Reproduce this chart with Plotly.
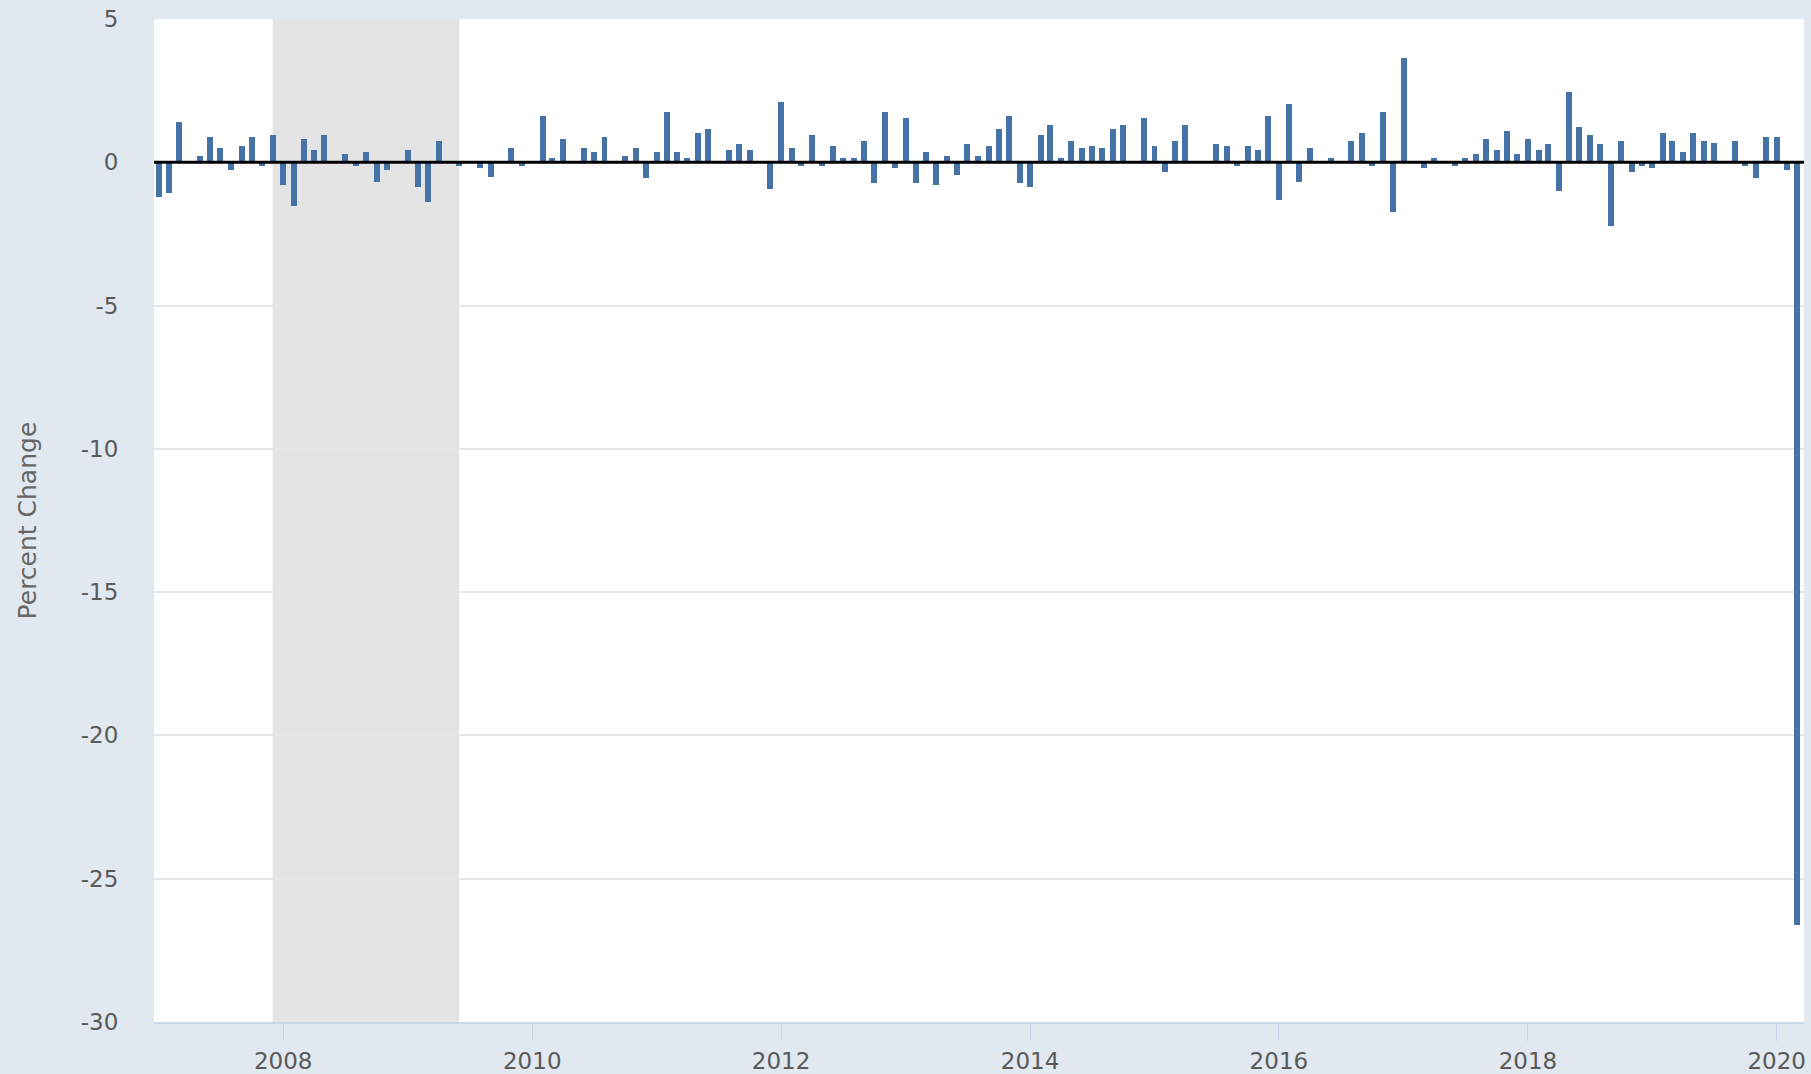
import plotly.graph_objects as go
import pandas as pd

# Monthly percent change, Jan 2007 - Mar 2020
start_month = "2007-01-01"
values_2007 = [-1.22, -1.07, 1.39, 0.0, 0.23, 0.87, 0.51, -0.27, 0.58, 0.87, -0.12, 0.95]
values_2008 = [-0.79, -1.51, 0.81, 0.44, 0.95, 0.0, 0.29, -0.12, 0.37, -0.70, -0.27, 0.0]
values_2009 = [0.44, -0.85, -1.37, 0.73, 0.0, -0.12, 0.0, -0.20, -0.50, 0.0, 0.51, -0.12]
values_2010 = [0.0, 1.60, 0.16, 0.81, 0.0, 0.51, 0.37, 0.88, 0.0, 0.23, 0.51, -0.56]
values_2011 = [0.37, 1.76, 0.37, 0.16, 1.02, 1.16, 0.0, 0.44, 0.65, 0.44, 0.0, -0.93]
values_2012 = [2.11, 0.51, -0.12, 0.95, -0.12, 0.58, 0.16, 0.16, 0.73, -0.72, 1.76, -0.20]
values_2013 = [1.53, -0.72, 0.37, -0.79, 0.23, -0.43, 0.65, 0.23, 0.58, 1.16, 1.60, -0.72]
values_2014 = [-0.85, 0.95, 1.31, 0.16, 0.73, 0.51, 0.58, 0.51, 1.16, 1.31, 0.0, 1.53]
values_2015 = [0.58, -0.35, 0.73, 1.31, 0.0, 0.0, 0.65, 0.58, -0.12, 0.58, 0.44, 1.60]
values_2016 = [-1.30, 2.04, -0.70, 0.51, 0.0, 0.16, 0.0, 0.73, 1.02, -0.12, 1.76, -1.74]
values_2017 = [3.64, 0.0, -0.20, 0.16, 0.0, -0.12, 0.16, 0.29, 0.81, 0.44, 1.10, 0.29]
values_2018 = [0.81, 0.44, 0.65, -0.99, 2.47, 1.24, 0.95, 0.65, -2.24, 0.73, -0.35, -0.12]
values_2019 = [-0.20, 1.02, 0.73, 0.36, 1.02, 0.73, 0.66, 0.0, 0.73, -0.12, -0.56, 0.87]
values_2020 = [0.87, -0.27, -26.6]

recession_start = "2007-12-01"
recession_end = "2009-06-01"

y_ticks = [5, 0, -5, -10, -15, -20, -25, -30]
x_tick_years = ["2008", "2010", "2012", "2014", "2016", "2018", "2020"]

values = (values_2007 + values_2008 + values_2009 + values_2010 + values_2011 +
          values_2012 + values_2013 + values_2014 + values_2015 + values_2016 +
          values_2017 + values_2018 + values_2019 + values_2020)
dates = pd.date_range(start_month, periods=len(values), freq="MS")

FONT = "DejaVu Sans"
TICK_COLOR = "#5a5a5a"

fig = go.Figure()
fig.add_trace(go.Bar(
    x=dates, y=values,
    marker=dict(color="#4572a7", line=dict(width=0)),
    width=17.5 * 86400000,
    hoverinfo="x+y",
))

fig.add_shape(type="rect", xref="x", yref="paper",
              x0=recession_start, x1=recession_end, y0=0, y1=1,
              fillcolor="#e4e4e4", line=dict(width=0), layer="between")
fig.add_shape(type="line", xref="paper", yref="y",
              x0=0, x1=1, y0=0, y1=0,
              line=dict(color="#000000", width=3), layer="above")

fig.add_annotation(text="Percent Change", xref="paper", yref="paper",
                   x=-0.0764, y=0.5, textangle=-90, showarrow=False,
                   xanchor="center", yanchor="middle",
                   font=dict(family=FONT, size=25, color="#666666"))

fig.update_layout(
    width=1811, height=1074,
    margin=dict(l=154, r=7, t=19, b=52),
    paper_bgcolor="#e1e8f0",
    plot_bgcolor="#ffffff",
    showlegend=False,
    bargap=0,
    font=dict(family=FONT, size=23, color=TICK_COLOR),
    xaxis=dict(
        type="date",
        range=["2006-12-18", "2020-03-21"],
        tickvals=[y + "-01-01" for y in x_tick_years],
        ticktext=x_tick_years,
        ticks="outside", ticklen=17, tickcolor="#ccd6eb", tickwidth=1,
        automargin=False,
        showgrid=False, zeroline=False,
        showline=True, linecolor="#ccd6eb", linewidth=2,
        tickfont=dict(family=FONT, size=23, color=TICK_COLOR),
    ),
    yaxis=dict(
        range=[-30, 5],
        tickvals=y_ticks,
        ticktext=[str(v) for v in y_ticks],
        ticks="outside", ticklen=30, tickcolor="rgba(0,0,0,0)",
        automargin=False,
        showgrid=True, gridcolor="#e6e6e6", gridwidth=2,
        zeroline=False, showline=False,
        tickfont=dict(family=FONT, size=23, color=TICK_COLOR),
    ),
)

fig.write_html("out.html",
               config={"displayModeBar": False},
               post_script="document.body.style.margin='0px';document.body.style.padding='0px';")
